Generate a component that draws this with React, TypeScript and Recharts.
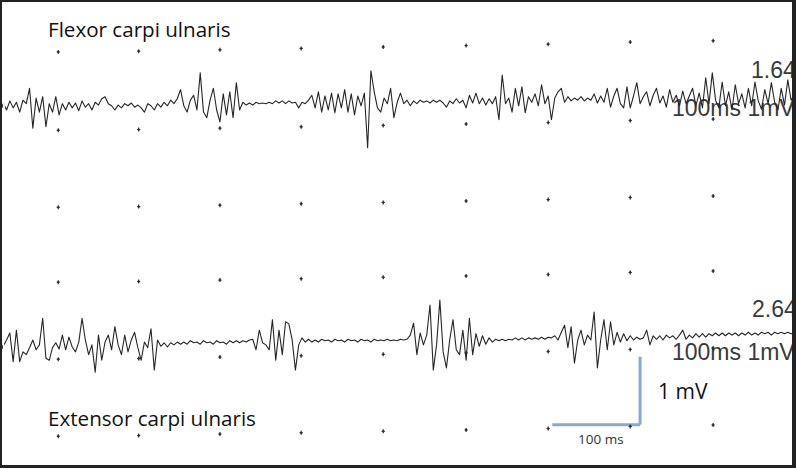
import { ComposedChart, Line, Scatter, XAxis, YAxis, ReferenceLine } from "recharts";

// one sample every 4 ms, amplitudes in mV
const SAMPLE_MS = 4;

const flexorMv = [
  -0.04, 0, -0.1, 0.03, -0.07, 0.01, -0.13, 0.04, -0.01, 0.21,
  -0.36, 0.07, -0.13, 0.09, -0.34, -0.01, -0.13, 0.09, -0.17, -0.01,
  -0.1, 0.01, -0.07, 0, -0.11, 0.03, -0.06, -0.01, -0.1, 0.01,
  -0.03, 0.06, 0.09, -0.01, -0.04, -0.1, -0.03, -0.07, -0.01, -0.04,
  0, -0.06, -0.03, -0.07, -0.13, -0.01, -0.04, -0.1, -0.01, -0.06,
  0.01, -0.04, 0.04, -0.01, 0.06, 0.19, -0.04, -0.13, 0.04, 0.11,
  -0.1, 0.43, -0.13, -0.21, 0.04, 0.21, -0.1, -0.27, 0.13, -0.17,
  0.16, -0.21, 0.29, -0.1, 0.01, -0.03, 0, -0.03, 0.01, -0.01,
  0, -0.01, 0.01, -0.01, 0.03, 0, 0.03, -0.01, 0.03, 0,
  0.01, -0.07, 0.01, -0.01, 0.04, 0.11, -0.07, 0.16, -0.13, 0.1,
  -0.1, 0.14, -0.14, 0.13, -0.07, 0.19, -0.13, 0.13, -0.17, 0.1,
  -0.04, 0.14, -0.64, 0.46, 0.16, -0.07, -0.13, 0.07, -0.01, 0.21,
  -0.21, 0.01, 0.14, -0.01, 0.04, -0.04, 0.03, -0.01, 0.04, 0.01,
  0.03, 0, 0.04, 0.01, 0.04, 0, -0.06, 0.03, -0.01, 0.06,
  0, 0.04, -0.07, 0.11, 0, 0.14, -0.01, 0.07, -0.03, 0.06,
  -0.01, 0.09, -0.24, 0.4, -0.01, 0.07, -0.13, 0.21, -0.04, 0.23,
  -0.14, 0.09, 0.01, 0.13, -0.04, 0.26, -0.01, 0.1, -0.24, 0.07,
  0.16, 0.21, 0.01, 0.09, 0.03, 0.07, 0.04, 0.09, 0.03, 0.07,
  0.04, 0.13, 0, 0.1, 0.01, 0.21, -0.06, 0.1, 0.21, -0.01,
  -0.07, 0.23, -0.07, 0.1, 0.29, -0.01, 0.09, 0.16, -0.04, 0.11,
  0.21, 0, 0.1, -0.06, 0.19, 0.01, 0.11, -0.04, 0.17, -0.01,
  0.1, 0.21, -0.04, 0.14, -0.07, 0.36, -0.01, 0.43, 0.04, -0.07,
  0.3, -0.04, 0.16, -0.1, 0.26, -0.01, 0.13, -0.07, 0.21, -0.04,
  0.3, 0.03, -0.09, 0.19, -0.01, 0.29, 0.01, -0.1, 0.21, -0.03,
  0.33, 0.04, 0.11,
];

const extensorMv = [
  -0.1, -0.09, 0, 0.1, -0.31, 0.14, -0.31, -0.17, -0.21, -0.11,
  0, -0.14, -0.07, 0.31, -0.26, -0.29, -0.11, -0.04, -0.13, 0.07,
  -0.14, 0.04, -0.1, -0.17, -0.03, 0.31, 0, -0.21, -0.07, -0.46,
  0.07, -0.29, -0.03, 0.07, -0.14, 0.19, -0.07, -0.21, 0.07, -0.17,
  0, 0.11, -0.11, -0.29, -0.03, -0.11, 0.16, -0.43, 0, -0.09,
  -0.04, -0.1, -0.04, -0.07, -0.03, -0.06, -0.03, -0.06, -0.01, -0.04,
  -0.03, -0.06, -0.01, -0.04, -0.03, -0.06, -0.01, -0.04, -0.03, -0.06,
  -0.01, -0.04, -0.01, -0.04, -0.01, -0.03, 0, 0.01, -0.14, 0.14,
  -0.04, -0.07, -0.14, 0.29, -0.29, 0.14, -0.21, 0.26, 0.23, 0,
  -0.43, -0.07, 0.03, -0.03, 0.01, -0.03, 0, -0.03, 0.01, -0.01,
  0, -0.03, 0.01, -0.01, 0, -0.03, 0.01, -0.01, 0, -0.03,
  0.01, -0.01, 0, -0.03, 0.01, -0.01, 0, -0.01, 0.01, -0.01,
  0, -0.01, 0.01, 0, 0.01, 0.07, 0.24, -0.21, 0.1, -0.07,
  0.07, 0.5, -0.43, -0.07, 0.57, -0.17, -0.4, 0, 0.29, -0.14,
  -0.21, 0.14, -0.29, 0.31, -0.21, 0.09, -0.09, 0.06, -0.06, 0.03,
  -0.03, 0.01, -0.01, 0.01, -0.01, 0.01, 0, 0.03, 0, 0.03,
  0, 0.03, 0.01, 0.03, 0.01, 0.04, 0.01, 0.04, 0.03, 0.06,
  0, 0.11, 0.21, -0.11, 0.19, -0.33, 0, 0.14, -0.07, 0.07,
  0, 0.4, -0.4, 0, 0.29, -0.14, 0.26, -0.07, 0.11, -0.03,
  0.09, -0.01, 0.06, 0, 0.04, 0.01, 0.03, 0.14, -0.07, 0.06,
  0.01, 0.06, 0, 0.07, 0.03, 0.06, 0.01, 0.07, 0.14, 0.01,
  0.07, 0.03, 0.09, 0.04, 0.09, 0.04, 0.09, 0.06, 0.1, 0.06,
  0.1, 0.06, 0.1, 0.07, 0.1, 0.06, 0.1, 0.07, 0.11, 0.07,
  0.1, 0.07, 0.11, 0.09, 0.11, 0.07, 0.11, 0.09, 0.11, 0.09,
  0.11, 0.09, 0.1,
];

// paper grid marks: column times (ms), row levels (mV on the flexor scale),
// and the slight tilt of the scan per column (mV)
const gridColumnsMs = [71, 169, 268, 367, 467, 568, 668, 768, 869];
const gridRowsMv = [0.73, -0.39, -1.49, -2.56, -3.66, -4.76];
const gridTiltMv = [0, 0.01, 0.03, 0.05, 0.07, 0.09, 0.11, 0.14, 0.16];

// calibration bar drawn on the extensor trace scale
const scaleBarMs = [673, 780];
const scaleBarMv = [-1.21, -0.24];

const rows = flexorMv.map((v, i) => ({
  t: i * SAMPLE_MS,
  flexor: v,
  extensor: extensorMv[i],
}));

const gridMarks = gridRowsMv.flatMap((r) =>
  gridColumnsMs.map((t, c) => ({ t, g: r + gridTiltMv[c] }))
);

const W = 796;
const H = 468;

const Plus = (props: any) => {
  const { cx, cy } = props;
  return (
    <g stroke="#2a2a2a" strokeWidth={1.2}>
      <line x1={cx - 1.6} y1={cy} x2={cx + 1.6} y2={cy} />
      <line x1={cx} y1={cy - 2} x2={cx} y2={cy + 2} />
      <circle cx={cx} cy={cy} r={0.9} fill="#2a2a2a" stroke="none" />
    </g>
  );
};

const sans = "'Open Sans', sans-serif";
const arial = "'Liberation Sans', Arial, sans-serif";

const App = () => {
  return (
    <div style={{ position: "absolute", left: 0, top: 0, width: W, height: H, background: "#fff", overflow: "hidden" }}>
      <ComposedChart width={W} height={H} data={rows} margin={{ top: 0, right: 0, bottom: 0, left: 0 }}>
        <XAxis dataKey="t" type="number" domain={[0, 970]} allowDataOverflow hide />
        <YAxis yAxisId="flex" type="number" domain={[-5.214, 1.471]} allowDataOverflow hide />
        <YAxis yAxisId="ext" type="number" domain={[-1.829, 4.857]} allowDataOverflow hide />
        <Scatter yAxisId="flex" data={gridMarks} dataKey="g" shape={Plus} isAnimationActive={false} />
        <Line yAxisId="flex" dataKey="flexor" stroke="#262626" strokeWidth={1.1} dot={false} strokeLinejoin="round" isAnimationActive={false} />
        <Line yAxisId="ext" dataKey="extensor" stroke="#262626" strokeWidth={1.1} dot={false} strokeLinejoin="round" isAnimationActive={false} />
        <ReferenceLine
          yAxisId="ext"
          segment={[{ x: scaleBarMs[0], y: scaleBarMv[0] }, { x: scaleBarMs[1], y: scaleBarMv[0] }]}
          stroke="#86a9d6"
          strokeWidth={3}
        />
        <ReferenceLine
          yAxisId="ext"
          segment={[{ x: scaleBarMs[1], y: scaleBarMv[0] }, { x: scaleBarMs[1], y: scaleBarMv[1] }]}
          stroke="#86a9d6"
          strokeWidth={3}
        />
        <text x={48} y={37} fontFamily={sans} fontSize={20.6} fill="#111">Flexor carpi ulnaris</text>
        <text x={48} y={426} fontFamily={sans} fontSize={20.6} fill="#111">Extensor carpi ulnaris</text>
        <text x={751} y={78} fontFamily={arial} fontSize={23} fill="#3a3a3a">1.64</text>
        <text x={672} y={116} fontFamily={arial} fontSize={23} fill="#3a3a3a">100ms 1mV</text>
        <text x={752} y={317} fontFamily={arial} fontSize={23} fill="#3a3a3a">2.64</text>
        <text x={672} y={360} fontFamily={arial} fontSize={23} fill="#3a3a3a">100ms 1mV</text>
        <text x={658} y={399} fontFamily={sans} fontSize={21} fill="#111">1 mV</text>
        <text x={578} y={444} fontFamily={sans} fontSize={13.5} fill="#333">100 ms</text>
      </ComposedChart>
      <div
        style={{
          position: "absolute",
          left: 0,
          top: 0,
          width: W,
          height: H,
          boxSizing: "border-box",
          borderStyle: "solid",
          borderColor: "#222",
          borderWidth: "2px 4px 3px 2px",
          pointerEvents: "none",
        }}
      />
    </div>
  );
};

export default App;
